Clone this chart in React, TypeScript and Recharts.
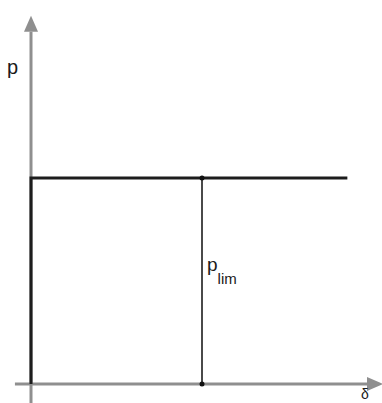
import {
  LineChart,
  Line,
  XAxis,
  YAxis,
  ReferenceLine,
  ReferenceDot
} from "recharts";

// load-displacement curve (rigid - perfectly plastic)
const curveDelta = [0, 0, 1.85];
const curveP = [0, 1, 1];

// limit load marker
const limDelta = [1, 1];
const limP = [0, 1];

// axis extents (start, arrow base)
const deltaAxis = [-0.094, 1.965];
const pAxis = [-0.095, 1.71];

// labels
const axisLabels = ["p", "δ"];
const limLabel = ["p", "lim"];

const curveData = curveDelta.map((d, i) => ({ delta: d, p: curveP[i] }));
const limData = limDelta.map((d, i) => ({ delta: d, p: limP[i] }));

const AXIS_GREY = "#8f8f8f";
const FONT = "Liberation Sans, Arial, sans-serif";

const ArrowUp = (props: any) => {
  const { cx, cy } = props;
  return <polygon points={`${cx - 7},${cy} ${cx + 7},${cy} ${cx},${cy - 16}`} fill={AXIS_GREY} />;
};

const ArrowRight = (props: any) => {
  const { cx, cy } = props;
  return <polygon points={`${cx},${cy - 7} ${cx},${cy + 7} ${cx + 16},${cy}`} fill={AXIS_GREY} />;
};

const TextAt = (text: string, dx: number, dy: number, size: number) => (props: any) => {
  const { cx, cy } = props;
  return (
    <text x={cx + dx} y={cy + dy} fontSize={size} fontFamily={FONT} fill="#1a1a1a">
      {text}
    </text>
  );
};

const LimLabel = (props: any) => {
  const { cx, cy } = props;
  return (
    <text x={cx + 5} y={cy} fontFamily={FONT} fill="#1a1a1a">
      <tspan fontSize={19}>{limLabel[0]}</tspan>
      <tspan fontSize={15} dy={13}>{limLabel[1]}</tspan>
    </text>
  );
};

export default function App() {
  return (
    <div style={{ position: "fixed", left: 0, top: 0, background: "#fff" }}>
      <LineChart width={382} height={403} margin={{ top: 0, right: 0, bottom: 0, left: 0 }}>
        <XAxis
          type="number"
          dataKey="delta"
          domain={[-0.1813, 2.0526]}
          allowDataOverflow
          hide
        />
        <YAxis
          type="number"
          dataKey="p"
          domain={[-0.0922, 1.864]}
          allowDataOverflow
          hide
        />

        {/* grey axes with arrow heads */}
        <ReferenceLine
          segment={[{ x: deltaAxis[0], y: 0 }, { x: deltaAxis[1], y: 0 }]}
          stroke={AXIS_GREY}
          strokeWidth={3}
          ifOverflow="visible"
        />
        <ReferenceLine
          segment={[{ x: 0, y: pAxis[0] }, { x: 0, y: pAxis[1] }]}
          stroke={AXIS_GREY}
          strokeWidth={3}
          ifOverflow="visible"
        />
        <ReferenceDot x={deltaAxis[1]} y={0} r={0} shape={ArrowRight} ifOverflow="visible" />
        <ReferenceDot x={0} y={pAxis[1]} r={0} shape={ArrowUp} ifOverflow="visible" />

        {/* limit load line */}
        <Line
          data={limData}
          dataKey="p"
          type="linear"
          stroke="#4a4a4a"
          strokeWidth={2}
          dot={false}
          activeDot={false}
          isAnimationActive={false}
        />
        <Line
          data={curveData}
          dataKey="p"
          type="linear"
          stroke="#1c1c1c"
          strokeWidth={3}
          dot={false}
          activeDot={false}
          isAnimationActive={false}
        />
        {limDelta.map((d, i) => (
          <ReferenceDot key={i} x={d} y={limP[i]} r={2.5} fill="#111" stroke="none" ifOverflow="visible" />
        ))}

        {/* labels */}
        <ReferenceDot x={0} y={pAxis[1]} r={0} shape={TextAt(axisLabels[0], -24, 42, 20)} ifOverflow="visible" />
        <ReferenceDot x={deltaAxis[1]} y={0} r={0} shape={TextAt(axisLabels[1], -6, 15, 14)} ifOverflow="visible" />
        <ReferenceDot x={limDelta[0]} y={0.55} r={0} shape={LimLabel} ifOverflow="visible" />
      </LineChart>
    </div>
  );
}
